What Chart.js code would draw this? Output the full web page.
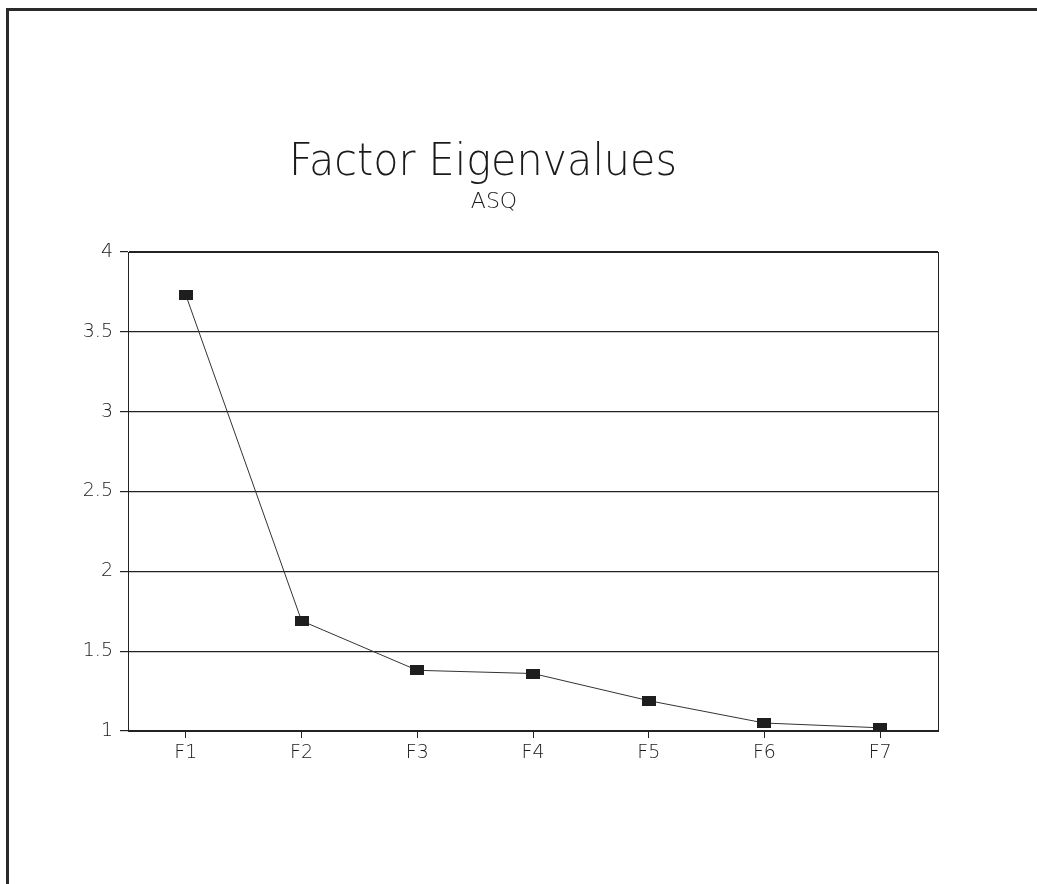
<!DOCTYPE html>
<html>
<head>
<meta charset="utf-8">
<script src="https://cdn.jsdelivr.net/npm/chart.js@4/dist/chart.umd.min.js"></script>
<style>
  html, body { margin: 0; padding: 0; background: #fff; overflow: hidden; }
  #wrap { position: relative; width: 1037px; height: 884px; }
  #frame { position: absolute; left: 6px; top: 8px; width: 1100px; height: 1000px;
           border-top: 3px solid #2a2a2a; border-left: 3px solid #2a2a2a; }
  canvas { position: absolute; left: 0; top: 0; }
</style>
</head>
<body>
<div id="wrap">
  <div id="frame"></div>
  <canvas id="scree" width="1037" height="884"></canvas>
</div>
<script>
var factors = ['F1', 'F2', 'F3', 'F4', 'F5', 'F6', 'F7'];
var eigenvalues = [3.73, 1.69, 1.38, 1.36, 1.19, 1.05, 1.02];
var yTickLabels = ['1', '1.5', '2', '2.5', '3', '3.5', '4'];
var yMin = 1, yMax = 4, yStep = 0.5;
var chartTitle = 'Factor Eigenvalues';
var chartSubtitle = 'ASQ';

var FONT = "'DejaVu Sans', 'Liberation Sans', sans-serif";
var INK = '#222';

// wide flat square marker like the old plotter output
var marker = document.createElement('canvas');
marker.width = 14; marker.height = 10;
var mctx = marker.getContext('2d');
mctx.fillStyle = '#1e1e1e';
mctx.fillRect(0, 0, 14, 10);

var framePlugin = {
    id: 'framePlugin',
    afterDraw: function(chart) {
        var ctx = chart.ctx, a = chart.chartArea;
        ctx.save();
        ctx.strokeStyle = INK;
        ctx.lineWidth = 1;
        ctx.strokeRect(Math.round(a.left) + 0.5, Math.round(a.top) + 0.5,
                       Math.round(a.right - a.left), Math.round(a.bottom - a.top));
        ctx.fillStyle = '#1a1a1a';
        ctx.textAlign = 'center';
        ctx.textBaseline = 'alphabetic';
        ctx.font = '200 44px ' + FONT;
        ctx.fillText(chartTitle, 483, 175, 388);
        ctx.font = '200 22px ' + FONT;
        ctx.fillText(chartSubtitle, 494, 208, 52);
        ctx.restore();
    }
};

var scree = new Chart(document.getElementById('scree'), {
    type: 'line',
    data: {
        labels: factors,
        datasets: [{
            label: 'Eigenvalue',
            data: eigenvalues,
            fill: false,
            borderColor: '#333',
            borderWidth: 1,
            tension: 0,
            pointStyle: marker,
            pointRadius: 7,
            pointHoverRadius: 7
        }]
    },
    options: {
        responsive: false,
        animation: false,
        events: [],
        layout: { padding: { left: 0, top: 252, right: 99, bottom: 0 } },
        plugins: {
            legend: { display: false },
            title: { display: false },
            tooltip: { enabled: false }
        },
        scales: {
            x: {
                type: 'category',
                offset: true,
                afterFit: function(s) { s.height = 153; },
                grid: { drawOnChartArea: false, drawTicks: true, tickLength: 7, color: INK, offset: false },
                border: { display: true, color: INK, width: 1 },
                ticks: { color: '#1a1a1a', padding: 4, font: { family: FONT, size: 19, weight: '200' } }
            },
            y: {
                min: yMin,
                max: yMax,
                afterFit: function(s) { s.width = 128; },
                grid: { color: INK, lineWidth: 1.2, tickLength: 8, drawTicks: true },
                border: { display: true, color: INK, width: 1 },
                ticks: {
                    stepSize: yStep,
                    color: '#1a1a1a',
                    padding: 7,
                    font: { family: FONT, size: 19, weight: '200' },
                    callback: function(v, i) { return yTickLabels[i]; }
                }
            }
        }
    },
    plugins: [framePlugin]
});
</script>
</body>
</html>
